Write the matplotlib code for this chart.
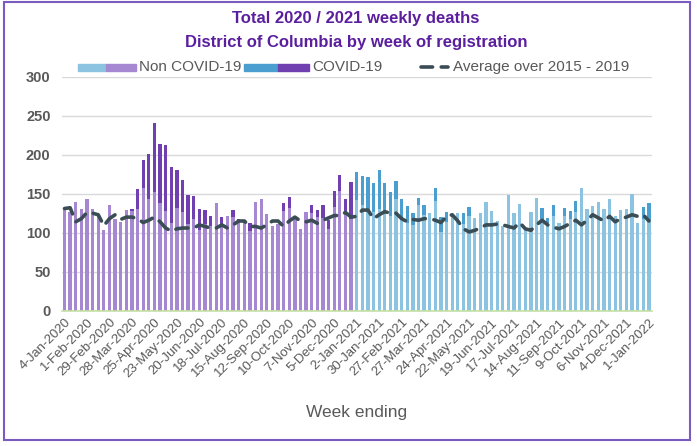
import matplotlib.pyplot as plt
from matplotlib.patches import Rectangle
from matplotlib.lines import Line2D
import numpy as np

plt.rcParams['font.family'] = ['Liberation Sans', 'DejaVu Sans']

# --- Données ---
total_2020 = [130, 127, 139, 130, 143, 131, 121, 103, 135, 118, 114, 129, 130,
              156, 193, 201, 241, 214, 213, 184, 180, 168, 148, 147, 131, 129,
              121, 138, 120, 122, 129, 117, 114, 113, 140, 143, 124, 108, 111,
              138, 146, 117, 105, 127, 136, 129, 135, 116, 153, 174, 143, 165]
non_covid_2020 = [130, 127, 139, 130, 143, 130, 121, 103, 135, 118, 114, 129, 128,
                  130, 157, 143, 152, 138, 128, 112, 132, 126, 111, 117, 103, 111,
                  109, 138, 108, 122, 120, 114, 114, 102, 140, 143, 124, 108, 111,
                  128, 132, 117, 105, 127, 125, 120, 119, 105, 133, 153, 127, 118]
total_2021 = [178, 173, 171, 164, 180, 164, 152, 166, 143, 134, 125, 144, 135,
              125, 157, 120, 126, 123, 125, 125, 133, 119, 125, 139, 128, 115,
              108, 148, 125, 137, 103, 126, 144, 132, 119, 135, 112, 132, 128,
              141, 157, 130, 134, 139, 130, 143, 121, 129, 130, 150, 112, 133, 138]
non_covid_2021 = [142, 135, 126, 126, 130, 124, 121, 143, 116, 112, 110, 135, 123,
                  125, 141, 101, 114, 123, 125, 111, 121, 119, 125, 139, 128, 115,
                  108, 148, 125, 137, 103, 126, 144, 117, 113, 122, 112, 122, 117,
                  126, 157, 130, 134, 139, 130, 143, 121, 129, 130, 150, 112, 117, 115]
moyenne = [131, 132, 114, 118, 126, 125, 123, 109, 118, 123, 117, 120, 120, 118,
           113, 116, 120, 114, 106, 102, 105, 106, 106, 106, 110, 108, 106, 106,
           110, 106, 110, 115, 115, 108, 108, 106, 110, 115, 115, 108, 115, 120,
           115, 114, 116, 112, 116, 119, 122, 122, 126, 120,
           121, 129, 129, 118, 123, 127, 125, 125, 118, 114, 117, 116, 118, 118,
           116, 113, 121, 123, 115, 105, 101, 103, 106, 110, 110, 111, 110, 108,
           106, 113, 105, 103, 110, 116, 110, 107, 105, 108, 112, 116, 110, 116,
           123, 119, 115, 121, 114, 118, 120, 123, 121, 123, 115]
etiquettes = ['4-Jan-2020', '1-Feb-2020', '29-Feb-2020', '28-Mar-2020', '25-Apr-2020',
              '23-May-2020', '20-Jun-2020', '18-Jul-2020', '15-Aug-2020', '12-Sep-2020',
              '10-Oct-2020', '7-Nov-2020', '5-Dec-2020', '2-Jan-2021', '30-Jan-2021',
              '27-Feb-2021', '27-Mar-2021', '24-Apr-2021', '22-May-2021', '19-Jun-2021',
              '17-Jul-2021', '14-Aug-2021', '11-Sep-2021', '9-Oct-2021', '6-Nov-2021',
              '4-Dec-2021', '1-Jan-2022']

# Couleurs
violet_clair = '#a688d2'
violet_fonce = '#7040b0'
bleu_clair = '#8cc3e1'
bleu_fonce = '#4a9fd0'
gris = '#595959'
ligne = '#3b4d54'

W, H = 697, 446
fig = plt.figure(figsize=(W / 100, H / 100), dpi=100)
ax = fig.add_axes([61.7 / W, 1 - 310.7 / H, 590 / W, 234 / H])


def fx(px):
    return px / W


def fy(py):
    return 1 - py / H


n20 = len(total_2020)
x20 = np.arange(n20)
x21 = np.arange(n20, n20 + len(total_2021))
covid_2020 = np.array(total_2020) - np.array(non_covid_2020)
covid_2021 = np.array(total_2021) - np.array(non_covid_2021)

w = 0.58
ax.bar(x20, non_covid_2020, width=w, color=violet_clair, zorder=2)
ax.bar(x20, covid_2020, width=w, bottom=non_covid_2020, color=violet_fonce, zorder=2)
ax.bar(x21, non_covid_2021, width=w, color=bleu_clair, zorder=2)
ax.bar(x21, covid_2021, width=w, bottom=non_covid_2021, color=bleu_fonce, zorder=2)

ax.plot(np.arange(len(moyenne)), moyenne, color=ligne, lw=2.6,
        dashes=(3.4, 2.4), dash_capstyle='round', zorder=3)

# Axes
ax.set_xlim(-0.5, len(moyenne) - 0.5)
ax.set_ylim(0, 300)
ax.set_yticks(range(0, 301, 50))
ax.yaxis.grid(True, color='#d9d9d9', lw=1, zorder=0)
ax.set_axisbelow(True)
for s in ['top', 'right', 'left']:
    ax.spines[s].set_visible(False)
ax.spines['bottom'].set_color('#c5e0a5')
ax.spines['bottom'].set_linewidth(1.2)
ax.tick_params(axis='y', length=0, pad=8, labelsize=10.5, labelcolor=gris)
for t in ax.get_yticklabels():
    t.set_fontweight('bold')
ax.set_xticks(np.arange(0, len(moyenne), 4))
ax.set_xticklabels(etiquettes, rotation=45, ha='right', rotation_mode='anchor',
                   fontsize=9.5, color=gris)
ax.tick_params(axis='x', length=0, pad=4)

fig.text(fx(357), fy(412), 'Week ending', ha='center', va='center',
         fontsize=12.5, color=gris)

# Titre
fig.text(fx(356), fy(18), 'Total 2020 / 2021 weekly deaths', ha='center', va='center',
         fontsize=12, fontweight='bold', color='#5b1f9e')
fig.text(fx(356), fy(43), 'District of Columbia by week of registration', ha='center',
         va='center', fontsize=12, fontweight='bold', color='#5b1f9e')

# Légende (dessinée à la main)
yl = 67
for (x0, x1), c in zip([(78, 106), (106, 136), (243.6, 278), (278, 309)],
                       [bleu_clair, violet_clair, bleu_fonce, violet_fonce]):
    fig.patches.append(Rectangle((fx(x0), fy(yl + 3.5)), fx(x1) - fx(x0), 7 / H,
                                 transform=fig.transFigure, color=c))
fig.lines.append(Line2D([fx(421), fx(448)], [fy(yl), fy(yl)], transform=fig.transFigure,
                        color=ligne, lw=2.6, dashes=(3.2, 2.4), dash_capstyle='round'))
for x, txt in [(139, 'Non COVID-19'), (312, 'COVID-19'), (453, 'Average over 2015 - 2019')]:
    fig.text(fx(x), fy(yl), txt, ha='left', va='center', fontsize=11, color=gris)

# Cadre
fig.patches.append(Rectangle((fx(4), fy(440)), 686 / W, 438 / H,
                             transform=fig.transFigure, fill=False,
                             edgecolor='#7a5cc0', lw=1.5))

fig.savefig('out.png', dpi=100)
